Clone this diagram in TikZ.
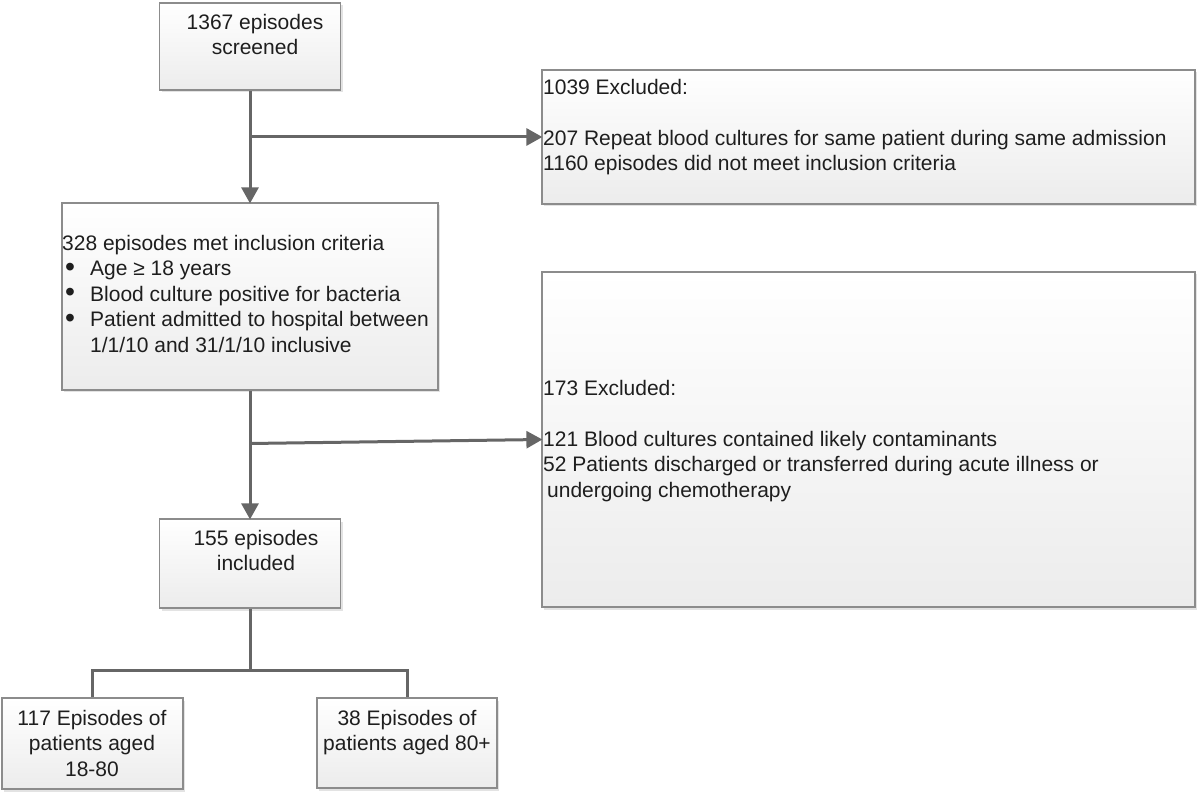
\documentclass[tikz,border=0pt]{standalone}
\usepackage{fontspec}
\setmainfont{Liberation Sans}
\usetikzlibrary{arrows.meta,shadows}
\definecolor{linegray}{HTML}{666666}
\definecolor{boxline}{HTML}{8C8C8C}
\definecolor{boxbot}{HTML}{ECECEC}
\definecolor{txt}{HTML}{1E1E1E}
\newcommand{\bul}{\makebox[28pt][l]{\hspace{3pt}\raisebox{-0.5pt}{\scalebox{1.35}{•}}}}
\tikzset{
  box/.style={draw=boxline, line width=1.2pt, rectangle, inner sep=0pt,
    top color=white, bottom color=boxbot,
    drop shadow={opacity=0.22, shadow xshift=2pt, shadow yshift=-2.5pt}},
  lbl/.style={inner sep=0pt, text=txt, font=\fontsize{21}{25.5}\selectfont},
  conn/.style={draw=linegray, line width=3pt},
  arr/.style={conn, -{Triangle[length=16pt,width=17pt]}, shorten >=-1pt}
}
\begin{document}
\begin{tikzpicture}[x=1pt,y=-1pt]
\useasboundingbox (0,0) rectangle (1200,794);
% boxes
\node[box, minimum width=181pt, minimum height=87pt] (A) at (250,46.5) {};
\node[box, minimum width=376pt, minimum height=187pt] (B) at (250,296.5) {};
\node[box, minimum width=181pt, minimum height=89pt] (C) at (250,563.5) {};
\node[box, minimum width=181pt, minimum height=91pt] (D) at (92.5,743.5) {};
\node[box, minimum width=180pt, minimum height=90pt] (E) at (407,743) {};
\node[box, minimum width=653pt, minimum height=134pt] (X1) at (868.5,137) {};
\node[box, minimum width=653pt, minimum height=335pt] (X2) at (868.5,439.5) {};
% texts
\node[lbl, anchor=north, align=center] (tA) at (255,14) {1367 episodes\\screened};
\node[lbl, anchor=north west, align=left] (tB) at (62,235) {328 episodes met inclusion criteria\\
\bul Age ≥ 18 years\\
\bul Blood culture positive for bacteria\\
\bul Patient admitted to hospital between\\
\makebox[28pt][l]{}1/1/10 and 31/1/10 inclusive};
\node[lbl, anchor=north, align=center] (tC) at (256,530) {155 episodes\\included};
\node[lbl, anchor=north, align=center] (tD) at (92,710) {117 Episodes of\\patients aged\\18-80};
\node[lbl, anchor=north, align=center] (tE) at (407,710) {38 Episodes of\\patients aged 80+};
\node[lbl, anchor=north west, align=left] (tX1) at (543,79) {1039 Excluded:\\[25.5pt]
207 Repeat blood cultures for same patient during same admission\\
1160 episodes did not meet inclusion criteria};
\node[lbl, anchor=north west, align=left] (tX2) at (543,380) {173 Excluded:\\[25.5pt]
121 Blood cultures contained likely contaminants\\
52 Patients discharged or transferred during acute illness or\\
\hspace{4pt}undergoing chemotherapy};
% junctions
\coordinate (j1) at (250,137);
\coordinate (j2) at (250,443.5);
\coordinate (j3) at (250,670);
% connectors
\draw[arr] (A.south) -- (B.north);
\draw[arr] (j1) -- (X1.west);
\draw[arr] (B.south) -- (C.north);
\draw[arr] (j2) -- (X2.west);
\draw[conn] (C.south) -- (j3);
\draw[conn] (D.north) -- (D.north |- j3) -- (E.north |- j3) -- (E.north);
\end{tikzpicture}
\end{document}
